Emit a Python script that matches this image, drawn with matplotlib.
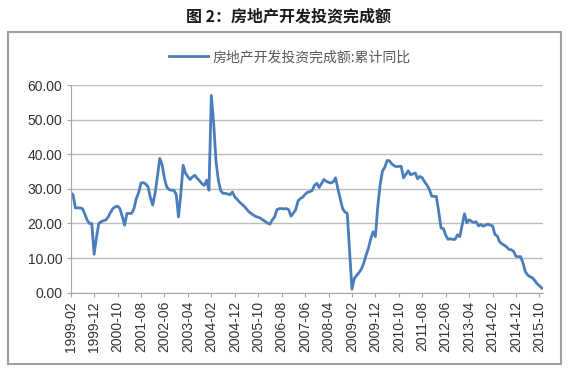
import pandas as pd
import matplotlib
matplotlib.use('Agg')
import matplotlib.pyplot as plt
from matplotlib.patches import Rectangle

# Cumulative YoY growth of real estate development investment (%), monthly
v1999 = [28.9, 28.3, 24.5, 24.5, 24.5, 24.3, 22.8, 21.0, 20.0, 20.0, 11.1]  # Feb-Dec
v2000 = [16.0, 20.0, 20.5, 20.8, 21.0, 21.9, 23.2, 24.3, 24.8, 25.0, 24.3, 22.0]
v2001 = [19.5, 22.9, 22.9, 22.9, 24.3, 27.2, 28.9, 31.7, 31.8, 31.4, 30.6, 27.5]
v2002 = [25.3, 28.7, 33.5, 38.8, 37.0, 33.0, 30.5, 29.8, 29.6, 29.6, 28.5, 21.9]
v2003 = [28.7, 36.8, 34.5, 33.5, 32.7, 33.5, 33.9, 33.0, 32.3, 31.5, 31.0, 32.5]
v2004 = [29.6, 57.0, 49.0, 38.0, 32.5, 29.5, 28.7, 28.7, 28.5, 28.3, 29.1, 27.7]
v2005 = [27.0, 26.2, 25.6, 25.0, 24.2, 23.4, 22.9, 22.4, 22.0, 21.8, 21.5, 21.0]
v2006 = [20.6, 20.1, 19.8, 21.0, 21.9, 24.0, 24.3, 24.3, 24.2, 24.3, 24.0, 22.1]
v2007 = [23.0, 24.0, 26.5, 27.2, 27.6, 28.4, 29.0, 29.2, 29.5, 31.0, 31.6, 30.4]
v2008 = [31.5, 32.7, 32.2, 31.9, 31.7, 32.0, 33.2, 30.0, 27.2, 24.3, 23.3, 22.9]
v2009 = [12.0, 1.0, 4.1, 5.0, 5.8, 6.8, 8.5, 10.8, 12.8, 15.5, 17.6, 16.2]
v2010 = [24.8, 31.1, 35.1, 36.2, 38.2, 38.1, 37.2, 36.7, 36.4, 36.5, 36.5, 33.2]
v2011 = [34.2, 35.2, 34.1, 34.3, 34.6, 32.9, 33.6, 33.2, 32.0, 31.1, 29.9, 27.9]
v2012 = [27.8, 27.8, 23.5, 18.7, 18.5, 16.6, 15.4, 15.6, 15.4, 15.4, 16.7, 16.2]
v2013 = [19.5, 22.8, 20.2, 21.1, 20.6, 20.3, 20.5, 19.3, 19.7, 19.2, 19.5, 19.8]
v2014 = [19.5, 19.3, 16.8, 16.4, 14.7, 14.1, 13.7, 13.2, 12.5, 12.4, 11.9, 10.5]
v2015 = [10.4, 10.4, 8.5, 6.0, 5.1, 4.6, 4.3, 3.5, 2.6, 2.0, 1.3]  # Jan-Nov

values = (v1999 + v2000 + v2001 + v2002 + v2003 + v2004 + v2005 + v2006 +
          v2007 + v2008 + v2009 + v2010 + v2011 + v2012 + v2013 + v2014 + v2015)
months = pd.date_range('1999-02-01', periods=len(values), freq='MS')
month_labels = [d.strftime('%Y-%m') for d in months]

title = '图 2：房地产开发投资完成额'
series_name = '房地产开发投资完成额:累计同比'

cjk = ['Noto Sans CJK SC', 'DejaVu Sans']

fig = plt.figure(figsize=(5.76, 3.74), dpi=100)
ax = fig.add_axes([0.1227, 0.2174, 0.8200, 0.5553])

x = list(range(len(values)))
line, = ax.plot(x, values, color='#4A7EBB', linewidth=2.0, label=series_name)

ax.set_xlim(0, len(values) - 0.5)
ax.set_ylim(0, 60)
ax.set_yticks(range(0, 61, 10))
ax.set_yticklabels([f'{v:.2f}' for v in range(0, 61, 10)],
                   fontsize=10, family='Liberation Sans', color='#333333')
tick_pos = x[::10]
ax.set_xticks(tick_pos)
ax.set_xticklabels([month_labels[i] for i in tick_pos], rotation=90,
                   fontsize=10, family='Liberation Sans', color='#333333')

ax.grid(axis='y', color='#BDBDBD', linewidth=1.0)
ax.set_axisbelow(True)
for side in ['top', 'right']:
    ax.spines[side].set_visible(False)
for side in ['left', 'bottom']:
    ax.spines[side].set_color('#A6A6A6')
ax.tick_params(axis='both', direction='out', length=3, color='#A6A6A6', pad=3)

# Outer frame and title
fig.patches.append(Rectangle((8 / 576, 1 - 364 / 374), 553 / 576, 332 / 374,
                             transform=fig.transFigure, fill=False,
                             edgecolor='#A0A0A0', linewidth=1.5))
fig.text(0.5, 1 - 16 / 374, title, ha='center', va='center', fontsize=11.5,
         fontweight='bold', family=cjk, color='#1A1A1A')

fig.legend(handles=[line], loc='center', bbox_to_anchor=(0.503, 1 - 57 / 374),
           frameon=False, handlelength=2.8, handletextpad=0.3,
           prop={'family': cjk, 'size': 10}, labelcolor='#595959')

plt.savefig('out.png', dpi=100)
